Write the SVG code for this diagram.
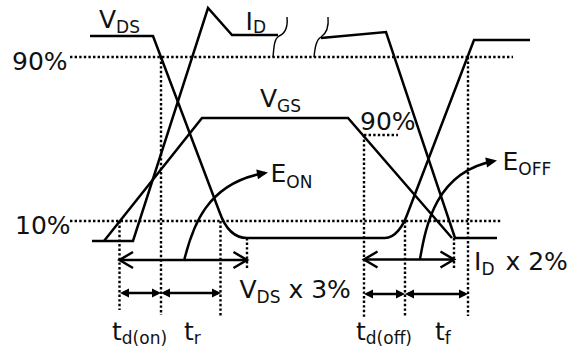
<svg xmlns="http://www.w3.org/2000/svg" width="577" height="354" viewBox="0 0 577 354">
<style>
.w{fill:none;stroke:#000;stroke-width:2.5;stroke-linejoin:miter}
.sq{fill:none;stroke:#000;stroke-width:1.4}
.d{fill:none;stroke:#000;stroke-width:2.4;stroke-dasharray:2.4 2.2}
.a{fill:none;stroke:#000;stroke-width:2.5}
text{font-family:"DejaVu Sans","Noto Sans",sans-serif;font-size:25px;fill:#111}
.s{font-size:17px}
</style>
<defs>
<marker id="fh" markerUnits="userSpaceOnUse" markerWidth="10" markerHeight="9" refX="6" refY="4.5" orient="auto-start-reverse" overflow="visible"><path d="M0,0 L9,4.5 L0,9 z" fill="#000"/></marker>
<marker id="oh" markerUnits="userSpaceOnUse" markerWidth="16" markerHeight="18" refX="14" refY="8" orient="auto-start-reverse" overflow="visible"><path d="M0.5,0 L14,8 L0.5,16" fill="none" stroke="#000" stroke-width="2.5"/></marker>
<marker id="eh" markerUnits="userSpaceOnUse" markerWidth="12" markerHeight="11" refX="8" refY="5" orient="auto" overflow="visible"><path d="M0,0 L11,5 L0,10 z" fill="#000"/></marker>
</defs>

<g id="guides">
<path class="d" d="M70,57 H513"/>
<path class="d" d="M70,221 H502"/>
<path class="d" d="M119.5,221 V310"/>
<path class="d" d="M161,57 V315"/>
<path class="d" d="M220.5,221 V317"/>
<path class="d" d="M247,238 V270"/>
<path class="d" d="M364,135 H398"/>
<path class="d" d="M364,135 V317"/>
<path class="d" d="M405,221 V317"/>
<path class="d" d="M454,238 V268"/>
<path class="d" d="M468,57 V316"/>
</g>

<g id="waveforms">
<path id="vds" class="w" d="M90,36 H153 L219.5,212 C223,222 230,238 247,238 H385 C395,238 403,226 407,215 L474,40 H530"/>
<path id="id-on" class="w" d="M92,241 H133 L208,8 L232,35 H278"/>
<path id="id-off" class="w" d="M321,38 L386,32 L455,238 H497"/>
<path id="vgs" class="w" d="M104,241 L202,118 H348 L452,238"/>
<path class="sq" d="M287,17 C288,27 286,33 279,36 C274,39 274,47 273,57"/>
<path class="sq" d="M328,17 C329,27 327,33 321,37 C316,40 315,48 314,57"/>
</g>

<g id="connectors">
<path class="a" d="M119.5,260 H247" marker-start="url(#oh)" marker-end="url(#oh)"/>
<path class="a" d="M364,259.5 H454" marker-start="url(#oh)" marker-end="url(#oh)"/>
<path class="a" d="M123,293 H158" marker-start="url(#fh)" marker-end="url(#fh)"/>
<path class="a" d="M164,293 H218" marker-start="url(#fh)" marker-end="url(#fh)"/>
<path class="a" d="M367,294 H402" marker-start="url(#fh)" marker-end="url(#fh)"/>
<path class="a" d="M408,294 H465" marker-start="url(#fh)" marker-end="url(#fh)"/>
<path class="a" d="M184,261 C192,228 206,183 265,173" marker-end="url(#eh)"/>
<path class="a" d="M420,259 C426,225 436,172 494,161" marker-end="url(#eh)"/>
</g>

<g id="labels">
<text x="12" y="70">90%</text>
<text x="15" y="234">10%</text>
<text x="99" y="28">V<tspan class="s" dy="5">DS</tspan></text>
<text x="245.5" y="30">I<tspan class="s" dy="3">D</tspan></text>
<text x="260" y="107">V<tspan class="s" dy="5">GS</tspan></text>
<text x="360" y="130">90%</text>
<text x="270.5" y="182">E<tspan class="s" dy="6">ON</tspan></text>
<text x="502.5" y="170">E<tspan class="s" dy="5">OFF</tspan></text>
<text x="239.5" y="298">V<tspan class="s" dy="5">DS</tspan><tspan dy="-5"> x 3%</tspan></text>
<text x="474" y="270">I<tspan class="s" dy="5">D</tspan><tspan dy="-5" dx="3"> x 2%</tspan></text>
<text x="112" y="340">t<tspan class="s" dy="4">d(on)</tspan></text>
<text x="184" y="340">t<tspan class="s" dy="4">r</tspan></text>
<text x="356" y="340">t<tspan class="s" dy="4">d(off)</tspan></text>
<text x="435" y="340">t<tspan class="s" dy="4">f</tspan></text>
</g>
</svg>
